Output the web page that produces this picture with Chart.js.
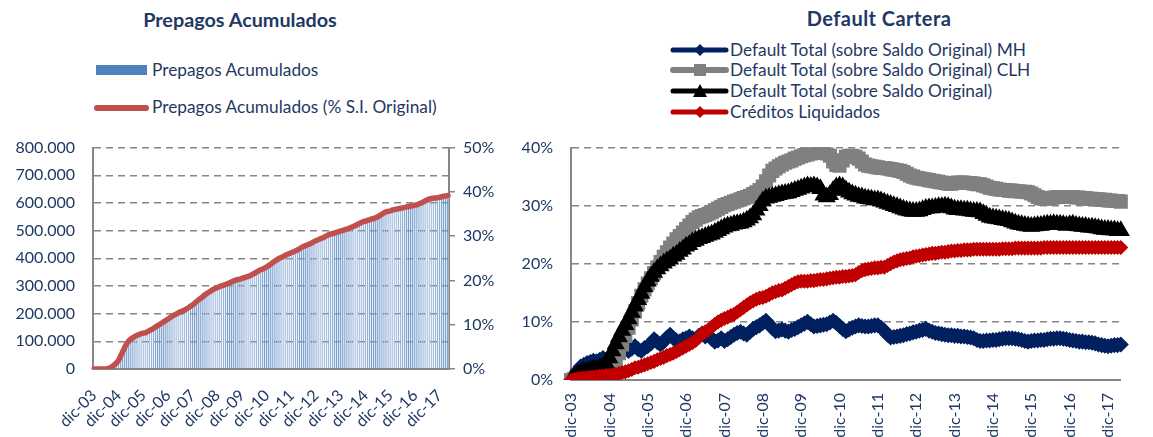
<!DOCTYPE html>
<html><head><meta charset="utf-8">
<script src="https://cdn.jsdelivr.net/npm/chart.js@4.4.0/dist/chart.umd.min.js"></script>
<style>
body{margin:0;background:#fff;width:1153px;height:437px;overflow:hidden;position:relative;font-family:Lato,'Open Sans',sans-serif;color:#1F3864}
.abs{position:absolute;white-space:nowrap}
.title{font-weight:bold;text-align:center;line-height:24px}
.lg{font-size:17.3px;line-height:20px}
canvas{position:absolute}
</style></head><body>
<div class="abs title" style="left:40px;top:7px;width:400px;font-size:19.8px">Prepagos Acumulados</div>
<div class="abs title" style="left:679px;top:6px;width:400px;font-size:20px;letter-spacing:0.45px">Default Cartera</div>
<svg class="abs" style="left:0;top:0" width="1153" height="125">
  <rect x="96" y="65" width="51" height="10" fill="#4F81BD"/>
  <line x1="97" y1="108" x2="146" y2="108" stroke="#C0504D" stroke-width="6" stroke-linecap="round"/>
  <line x1="673" y1="50" x2="726" y2="50" stroke="#002060" stroke-width="5" stroke-linecap="round"/>
  <polygon points="700,44 706,50 700,56 694,50" fill="#002060"/>
  <line x1="673" y1="70" x2="726" y2="70" stroke="#808080" stroke-width="6" stroke-linecap="round"/>
  <rect x="694" y="64" width="12" height="12" fill="#808080"/>
  <line x1="673" y1="91" x2="726" y2="91" stroke="#000000" stroke-width="5" stroke-linecap="round"/>
  <polygon points="700,84 707,97 693,97" fill="#000000"/>
  <line x1="673" y1="112" x2="726" y2="112" stroke="#C00000" stroke-width="5" stroke-linecap="round"/>
  <polygon points="700,106 706,112 700,118 694,112" fill="#C00000"/>
</svg>
<div class="abs lg" style="left:152px;top:60px">Prepagos Acumulados</div>
<div class="abs lg" style="left:152px;top:97px">Prepagos Acumulados (% S.I. Original)</div>
<div class="abs lg" style="left:730px;top:40px">Default Total (sobre Saldo Original) MH</div>
<div class="abs lg" style="left:730px;top:60px">Default Total (sobre Saldo Original) CLH</div>
<div class="abs lg" style="left:730px;top:81px">Default Total (sobre Saldo Original)</div>
<div class="abs lg" style="left:730px;top:102px">Créditos Liquidados</div>
<canvas id="cL" width="505" height="317" style="left:0;top:120px"></canvas>
<canvas id="cR" width="648" height="317" style="left:505px;top:120px"></canvas>
<script>
// ---- categories: monthly, dic-03 .. abr-18 ----
const monthNames = ['ene','feb','mar','abr','may','jun','jul','ago','sep','oct','nov','dic'];
const categories = [];
for (let k = 0; k < 173; k++) {
  const m = (11 + k) % 12;
  const y = 3 + Math.floor((11 + k) / 12);
  categories.push(monthNames[m] + '-' + String(y).padStart(2, '0'));
}
const yearTickLabels = categories.filter(c => c.startsWith('dic'));

// ---- Left chart: Prepagos acumulados (miles) and % S.I. Original ----
const prepagosMiles = [
  0,0,0,0,0,0,0, 2,5,10,16,22,
  32,48,64,80,93,102,109,114,118,122,125,128,
  130,131,134,139,142,147,152,157,162,166,171,176,
  181,186,190,195,198,203,206,210,213,218,222,227,
  232,238,245,251,256,262,269,274,278,283,288,291,
  294,298,301,302,306,309,312,315,318,322,323,325,
  328,330,333,334,338,342,346,350,355,358,362,365,
  370,374,379,386,390,395,400,403,406,411,414,418,
  421,424,427,430,435,440,443,446,450,453,456,461,
  464,467,470,474,477,482,485,488,490,491,494,496,
  499,501,504,506,509,512,515,518,522,526,530,533,
  534,538,539,542,544,547,550,555,560,565,568,570,
  571,574,576,578,579,581,582,584,586,587,589,590,
  592,594,597,600,603,608,611,614,616,618,618,619,
  621,622,624,626,627
];
const prepagosPct = [
  0,0,0,0,0,0,0, 0.1,0.3,0.6,1.0,1.4,
  2.0,3.0,4.0,5.0,5.8,6.4,6.8,7.1,7.4,7.6,7.8,8.0,
  8.1,8.2,8.4,8.7,8.9,9.2,9.5,9.8,10.1,10.4,10.7,11.0,
  11.3,11.6,11.9,12.2,12.4,12.7,12.9,13.1,13.3,13.6,13.9,14.2,
  14.5,14.9,15.3,15.7,16.0,16.4,16.8,17.1,17.4,17.7,18.0,18.2,
  18.4,18.6,18.8,18.9,19.1,19.3,19.5,19.7,19.9,20.1,20.2,20.3,
  20.5,20.6,20.8,20.9,21.1,21.4,21.6,21.9,22.2,22.4,22.6,22.8,
  23.1,23.4,23.7,24.1,24.4,24.7,25.0,25.2,25.4,25.7,25.9,26.1,
  26.3,26.5,26.7,26.9,27.2,27.5,27.7,27.9,28.1,28.3,28.5,28.8,
  29.0,29.2,29.4,29.6,29.8,30.1,30.3,30.5,30.6,30.7,30.9,31.0,
  31.2,31.3,31.5,31.6,31.8,32.0,32.2,32.4,32.6,32.9,33.1,33.3,
  33.4,33.6,33.7,33.9,34.0,34.2,34.4,34.7,35.0,35.3,35.5,35.6,
  35.7,35.9,36.0,36.1,36.2,36.3,36.4,36.5,36.6,36.7,36.8,36.9,
  37.0,37.1,37.3,37.5,37.7,38.0,38.2,38.4,38.5,38.6,38.6,38.7,
  38.8,38.9,39.0,39.1,39.2
];
const leftTicksMiles = [0,100,200,300,400,500,600,700,800];
const leftTicksPct = [0,10,20,30,40,50];

// ---- Right chart: Default Cartera (%) ----
const defaultMH = [
  0.0,0.8,1.6,2.3,2.6,2.9,3.1,3.3,3.2,3.5,3.8,3.5,
  3.3,3.8,4.2,4.6,5.0,5.5,5.0,5.4,5.8,5.3,5.0,5.5,
  5.8,6.3,7.0,6.5,6.1,6.6,7.3,7.8,7.2,6.8,6.6,7.0,
  7.2,7.5,7.2,7.0,7.6,8.0,7.5,7.7,7.1,6.6,6.8,7.2,
  6.7,7.0,7.4,7.8,8.1,8.3,8.0,7.8,8.3,8.8,9.1,9.4,
  9.8,10.2,9.6,8.9,8.4,8.5,8.7,8.5,8.3,8.6,8.8,9.1,
  9.4,9.7,10.0,9.6,9.2,9.3,9.4,9.5,9.6,9.9,10.2,9.8,
  9.3,8.8,8.4,8.7,9.0,9.2,9.4,9.3,9.2,9.2,9.3,9.4,
  9.4,9.0,8.5,7.8,7.3,7.4,7.5,7.6,7.7,7.9,8.0,8.2,
  8.3,8.5,8.6,8.8,8.5,8.3,8.1,8.0,7.9,7.8,7.7,7.7,
  7.6,7.6,7.5,7.5,7.4,7.3,7.2,6.9,6.7,6.7,6.8,6.8,
  6.9,6.9,7.0,7.1,7.2,7.2,7.2,7.1,7.0,6.9,6.7,6.6,
  6.7,6.8,6.8,6.9,6.9,7.0,7.1,7.1,7.2,7.2,7.1,7.0,
  6.9,6.8,6.7,6.6,6.6,6.5,6.5,6.4,6.3,6.1,6.0,5.9,
  5.8,5.9,6.0,6.0,6.1
];
const defaultCLH = [
  0.0,0.2,0.4,0.5,0.6,0.7,0.8,0.9,1.0,1.1,1.2,1.3,
  1.5,2.0,3.0,4.6,6.1,7.6,9.0,10.4,11.8,13.2,14.5,15.6,
  16.6,17.5,18.4,19.4,20.3,21.2,22.0,22.8,23.5,24.2,24.8,25.4,
  26.0,26.6,27.2,27.6,28.0,28.2,28.4,28.6,28.9,29.2,29.5,29.8,
  30.1,30.3,30.5,30.7,30.9,31.1,31.3,31.5,31.7,32.0,32.3,32.7,
  33.3,34.2,35.2,36.0,36.4,36.8,37.1,37.4,37.6,37.8,38.1,38.3,
  38.5,38.7,38.8,39.0,39.1,39.2,39.3,39.2,39.0,38.6,37.6,37.0,
  36.9,37.8,38.4,38.6,38.6,38.4,38.1,37.6,37.1,36.9,36.8,36.7,
  36.6,36.5,36.5,36.4,36.3,36.2,36.1,36.0,35.8,35.5,35.2,35.0,
  34.8,34.7,34.6,34.5,34.4,34.3,34.2,34.1,34.0,33.9,33.8,33.8,
  33.9,34.0,34.0,34.0,33.9,33.9,33.8,33.7,33.7,33.5,33.3,33.1,
  33.0,32.9,32.8,32.7,32.7,32.6,32.6,32.5,32.5,32.4,32.4,32.3,
  32.1,31.8,31.5,31.3,31.2,31.2,31.3,31.4,31.5,31.5,31.5,31.5,
  31.5,31.5,31.4,31.4,31.3,31.3,31.2,31.2,31.1,31.1,31.0,31.0,
  30.9,30.9,30.8,30.8,30.7
];
const defaultTotal = [
  0.0,0.5,1.0,1.2,1.5,1.4,1.7,1.9,1.8,2.1,2.3,2.8,
  3.8,5.0,6.2,7.4,8.5,9.5,10.5,11.6,12.7,13.8,14.9,16.0,
  17.0,17.8,18.5,19.1,19.6,20.1,20.5,20.8,21.3,21.6,22.1,22.5,
  23.0,23.3,23.8,24.0,24.3,24.5,24.7,24.9,25.1,25.4,25.7,26.0,
  26.3,26.5,26.6,26.8,26.9,27.0,27.2,27.5,27.9,28.4,29.2,30.0,
  30.8,31.3,31.4,31.6,31.7,31.9,32.0,32.1,32.2,32.4,32.6,32.8,
  33.0,33.2,33.4,33.3,33.4,33.2,32.9,31.8,31.5,31.9,32.6,33.2,
  33.4,33.2,32.7,32.3,32.0,31.8,31.6,31.5,31.3,31.2,31.1,31.0,
  31.0,30.8,30.6,30.4,30.2,30.0,29.8,29.6,29.4,29.2,29.1,29.0,
  29.0,29.1,29.3,29.5,29.6,29.6,29.7,29.8,29.8,29.9,29.8,29.6,
  29.4,29.3,29.3,29.2,29.2,29.1,29.0,29.0,28.9,28.6,28.3,28.0,
  27.9,27.8,27.7,27.6,27.5,27.4,27.2,27.0,26.8,26.7,26.6,26.5,
  26.4,26.5,26.6,26.6,26.7,26.8,26.8,26.9,26.8,26.8,26.7,26.6,
  26.7,26.8,26.6,26.5,26.4,26.4,26.3,26.3,26.2,26.1,26.0,25.9,
  25.9,25.8,25.8,25.7,25.7
];
const creditosLiquidados = [
  0.0,0.1,0.2,0.3,0.4,0.4,0.5,0.5,0.6,0.7,0.7,0.8,
  0.8,0.9,1.0,1.1,1.3,1.4,1.6,1.8,2.1,2.2,2.4,2.6,
  2.8,3.0,3.2,3.5,3.7,3.9,4.2,4.4,4.6,4.9,5.2,5.5,
  5.8,6.1,6.4,6.8,7.3,8.0,8.3,8.6,9.1,9.6,10.0,10.3,
  10.6,10.8,11.1,11.3,11.7,12.1,12.5,12.9,13.3,13.6,13.9,14.1,
  14.2,14.4,14.7,15.0,15.2,15.4,15.5,15.8,16.1,16.4,16.7,16.9,
  17.0,17.0,17.0,17.1,17.1,17.2,17.3,17.3,17.4,17.5,17.6,17.7,
  17.7,17.8,17.8,17.9,18.0,18.1,18.5,18.8,19.0,19.1,19.2,19.3,
  19.3,19.4,19.4,19.7,20.0,20.3,20.5,20.7,20.8,20.9,21.0,21.2,
  21.3,21.4,21.5,21.6,21.7,21.8,21.8,21.9,22.0,22.0,22.1,22.2,
  22.2,22.3,22.3,22.4,22.4,22.4,22.5,22.5,22.5,22.5,22.5,22.5,
  22.5,22.5,22.5,22.6,22.6,22.6,22.6,22.7,22.7,22.7,22.7,22.7,
  22.7,22.7,22.7,22.7,22.8,22.8,22.8,22.8,22.8,22.8,22.8,22.8,
  22.8,22.8,22.8,22.8,22.8,22.8,22.8,22.8,22.8,22.8,22.8,22.8,
  22.8,22.8,22.8,22.8,22.8
];
const rightTicksPct = [0,10,20,30,40];

// ---- drawing ----
const NAVY = '#1F3864';
const GRID = '#868686';
const tickFont = {family: 'Lato', size: 16};
const yearLabel = (v, i) => (yearTickLabels.includes(categories[i]) ? categories[i] : '');

function draw() {
  new Chart(document.getElementById('cL'), {
    type: 'bar',
    data: {
      labels: categories,
      datasets: [
        {type: 'line', label: 'Prepagos Acumulados (% S.I. Original)', data: prepagosPct, yAxisID: 'y1',
         borderColor: '#C0504D', borderWidth: 5.5, pointRadius: 0, tension: 0, order: 0, borderCapStyle: 'round', borderJoinStyle: 'round'},
        {type: 'bar', label: 'Prepagos Acumulados', data: prepagosMiles, yAxisID: 'y',
         backgroundColor: '#B9CDE7', borderColor: '#4F81BD', borderWidth: {left: 1, right: 0, top: 0, bottom: 0},
         borderSkipped: false, barPercentage: 0.8, categoryPercentage: 1, order: 1}
      ]
    },
    options: {
      responsive: false, animation: false, devicePixelRatio: 1,
      layout: {padding: {top: 21, left: 0, right: 0, bottom: 0}},
      plugins: {legend: {display: false}, tooltip: {enabled: false}},
      scales: {
        x: {
          grid: {display: false, drawTicks: false},
          border: {color: GRID, width: 2},
          ticks: {autoSkip: false, minRotation: 45, maxRotation: 45, padding: 17, color: NAVY, font: tickFont, callback: yearLabel},
          afterFit: s => { s.height = 68; }
        },
        y: {
          min: leftTicksMiles[0], max: leftTicksMiles[leftTicksMiles.length - 1],
          afterBuildTicks: s => { s.ticks = leftTicksMiles.map(v => ({value: v})); },
          grid: {color: GRID, lineWidth: 1.5, drawTicks: false},
          border: {color: GRID, width: 2, dash: [7, 5]},
          ticks: {padding: 18, color: NAVY, font: tickFont, callback: v => (v === 0 ? '0' : v + '.000')},
          afterFit: s => { s.width = 93; }
        },
        y1: {
          position: 'right',
          min: leftTicksPct[0], max: leftTicksPct[leftTicksPct.length - 1],
          afterBuildTicks: s => { s.ticks = leftTicksPct.map(v => ({value: v})); },
          grid: {drawOnChartArea: false, drawTicks: true, tickLength: 6, color: GRID, lineWidth: 1.5},
          border: {color: GRID, width: 2},
          ticks: {padding: 8, color: NAVY, font: tickFont, callback: v => v + '%'},
          afterFit: s => { s.width = 56; }
        }
      }
    }
  });

  new Chart(document.getElementById('cR'), {
    type: 'line',
    data: {
      labels: categories,
      datasets: [
        {label: 'Créditos Liquidados', data: creditosLiquidados, borderColor: '#C00000', backgroundColor: '#C00000',
         borderWidth: 5, pointStyle: 'rectRot', pointRadius: 4, order: 0},
        {label: 'Default Total (sobre Saldo Original)', data: defaultTotal, borderColor: '#000000', backgroundColor: '#000000',
         borderWidth: 5, pointStyle: 'triangle', pointRadius: 5.5, order: 1},
        {label: 'Default Total (sobre Saldo Original) CLH', data: defaultCLH, borderColor: '#808080', backgroundColor: '#808080',
         borderWidth: 7, pointStyle: 'rect', pointRadius: 5, order: 2},
        {label: 'Default Total (sobre Saldo Original) MH', data: defaultMH, borderColor: '#002060', backgroundColor: '#002060',
         borderWidth: 5, pointStyle: 'rectRot', pointRadius: 4.5, order: 3}
      ]
    },
    options: {
      responsive: false, animation: false, devicePixelRatio: 1,
      layout: {padding: {top: 19, left: 0, right: 1, bottom: 0}},
      plugins: {legend: {display: false}, tooltip: {enabled: false}},
      elements: {line: {tension: 0}, point: {borderWidth: 0, hitRadius: 0, hoverRadius: 0}},
      scales: {
        x: {
          grid: {display: false, drawTicks: false},
          border: {color: GRID, width: 2},
          ticks: {autoSkip: false, minRotation: 90, maxRotation: 90, padding: 13, color: NAVY, font: tickFont, callback: yearLabel},
          afterFit: s => { s.height = 57; }
        },
        y: {
          min: rightTicksPct[0], max: rightTicksPct[rightTicksPct.length - 1],
          afterBuildTicks: s => { s.ticks = rightTicksPct.map(v => ({value: v})); },
          grid: {color: GRID, lineWidth: 1.5, drawTicks: false},
          border: {color: GRID, width: 2, dash: [7, 5]},
          ticks: {padding: 18, color: NAVY, font: tickFont, callback: v => v + '%'},
          afterFit: s => { s.width = 66; }
        }
      }
    }
  });
}

const fontsReady = (document.fonts && document.fonts.load)
  ? Promise.all([document.fonts.load('16px Lato'), document.fonts.load('bold 20px Lato')]).catch(() => {})
  : Promise.resolve();
fontsReady.then(draw);
</script>
</body></html>
